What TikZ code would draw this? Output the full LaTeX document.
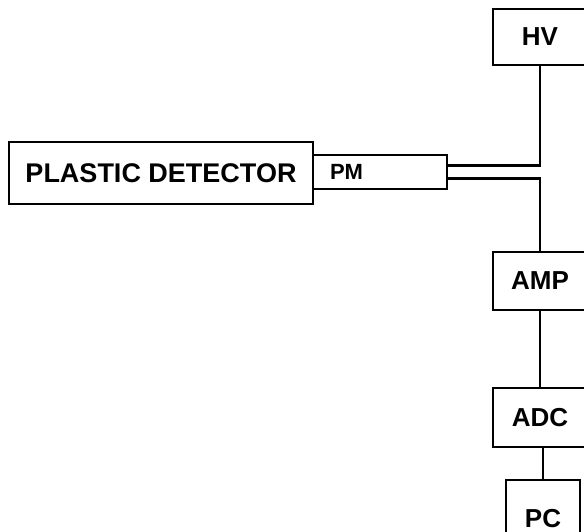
\documentclass[tikz,border=0pt]{standalone}
\usepackage{fontspec}
\setmainfont{Liberation Sans}
\usetikzlibrary{positioning}
\tikzset{
  x=1pt, y=1pt,
  unit/.style={rectangle, draw=black, line width=2pt, fill=white, inner sep=0pt,
               align=center, font=\bfseries\fontsize{26}{30}\selectfont},
  small/.style={font=\bfseries\fontsize{22}{26}\selectfont},
  wire/.style={draw=black, line width=2.6pt},
}
\begin{document}
\begin{tikzpicture}
  \useasboundingbox (0,0) rectangle (584,532);
  \begin{scope}
  \clip (0,0) rectangle (584,532);
  % --- detector and photomultiplier ---
  \node[unit, font=\bfseries\fontsize{27}{30}\selectfont, minimum width=304, minimum height=62] (det) at (161,359) {PLASTIC DETECTOR};
  \node[unit, small, align=left, inner xsep=17pt, text width=100pt, minimum height=34] (pm) at (380,360) {PM};

  % --- electronics chain on the right ---
  \node[unit, minimum width=94, minimum height=56] (hv)  at (540,495)   {HV};
  \node[unit, minimum width=94, minimum height=58] (amp) at (540,251)   {AMP};
  \node[unit, minimum width=94, minimum height=59] (adc) at (540,114.5) {ADC};
  \node[unit, minimum width=74, minimum height=78] (pc)  at (543,13)    {PC};

  % --- cables ---
  \draw[wire] ([yshift=6.5pt]pm.east) -| (hv.south);
  \draw[wire] ([yshift=-6.5pt]pm.east) -| (amp.north);
  \draw[wire] (amp) -- (adc);
  \draw[wire] (pc.north |- adc.south) -- (pc.north);
  \end{scope}
\end{tikzpicture}
\end{document}
